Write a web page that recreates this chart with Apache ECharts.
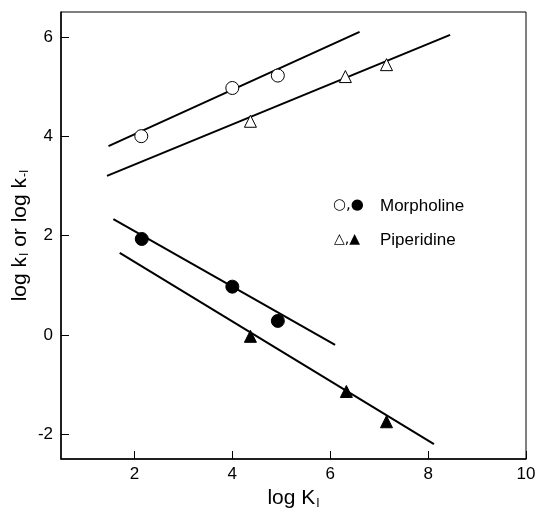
<!DOCTYPE html>
<html>
<head>
<meta charset="utf-8">
<script src="https://cdn.jsdelivr.net/npm/echarts@6/dist/echarts.min.js"></script>
<style>
  html, body { margin: 0; padding: 0; background: #fff; }
  #chart { width: 537px; height: 508px; }
</style>
</head>
<body>
<div id="chart"></div>
<script>
// Data (log K1 vs log k)
const morphK1 = [[2.14, 4.0], [4.0, 4.97], [4.93, 5.22]];
const piperK1 = [[4.37, 4.3], [6.31, 5.2], [7.15, 5.44]];
const morphKm1 = [[2.15, 1.93], [4.0, 0.97], [4.93, 0.28]];
const piperKm1 = [[4.37, -0.03], [6.33, -1.14], [7.15, -1.75]];

// fitted lines (end points)
const morphK1Fit = [[1.47, 3.8], [6.6, 6.1]];
const piperK1Fit = [[1.44, 3.2], [8.45, 6.04]];
const morphKm1Fit = [[1.57, 2.33], [6.1, -0.2]];
const piperKm1Fit = [[1.7, 1.65], [8.12, -2.2]];

const xTicks = [2, 4, 6, 8, 10];
const yTicks = [-2, 0, 2, 4, 6];

const chart = echarts.init(document.getElementById("chart"));

const font = "Liberation Sans, Arial, sans-serif";

const fitLine = (data) => ({
  type: "line",
  data: data,
  symbol: "none",
  lineStyle: { color: "#000", width: 2 },
  silent: true,
  z: 1,
});

const points = (data, symbol, filled) => ({
  type: "scatter",
  data: data,
  symbol: symbol,
  symbolSize: symbol === "triangle" ? 12 : 13,
  itemStyle: {
    color: filled ? "#000" : "#fff",
    borderColor: "#000",
    borderWidth: 1,
    opacity: 1,
  },
  z: 3,
});

chart.setOption({
  animation: false,
  grid: {
    left: 61,
    top: 12,
    right: 11,
    bottom: 49,
    outerBoundsMode: "none",
    containLabel: false,
    show: true,
    borderColor: "#000",
    borderWidth: 1,
  },
  xAxis: {
    type: "value",
    min: 0.5,
    max: 10,
    name: "log K{sub|I}",
    nameLocation: "middle",
    nameGap: 25,
    nameTextStyle: {
      color: "#000",
      fontSize: 21,
      fontFamily: font,
      rich: { sub: { fontSize: 12, fontFamily: font, padding: [10, 0, 0, 1] } },
    },
    axisLine: { onZero: false, lineStyle: { color: "#000", width: 1.5 } },
    axisTick: { inside: true, length: 8, customValues: xTicks, lineStyle: { color: "#000" } },
    axisLabel: { customValues: xTicks, color: "#000", fontSize: 17, fontFamily: font, margin: 7 },
    splitLine: { show: false },
  },
  yAxis: {
    type: "value",
    min: -2.5,
    max: 6.5,
    name: "log k{sub|I} or log k{sub|-I}",
    nameLocation: "middle",
    nameMoveOverlap: false,
    nameGap: 30,
    nameTextStyle: {
      color: "#000",
      fontSize: 21,
      fontFamily: font,
      rich: { sub: { fontSize: 12, fontFamily: font, padding: [10, 0, 0, 1] } },
    },
    axisLine: { onZero: false, lineStyle: { color: "#000", width: 1.5 } },
    axisTick: { inside: true, length: 8, customValues: yTicks, lineStyle: { color: "#000" } },
    axisLabel: { customValues: yTicks, color: "#000", fontSize: 17, fontFamily: font, margin: 8 },
    splitLine: { show: false },
  },
  graphic: [
    {
      type: "text",
      left: 333,
      top: 198,
      style: { text: "○,●", font: "15px DejaVu Sans", fill: "#000" },
    },
    {
      type: "text",
      left: 380,
      top: 198,
      style: { text: "Morpholine", font: "17px " + font, fill: "#000" },
    },
    {
      type: "text",
      left: 334,
      top: 232,
      style: { text: "△,▲", font: "14px DejaVu Sans", fill: "#000" },
    },
    {
      type: "text",
      left: 380,
      top: 232,
      style: { text: "Piperidine", font: "17px " + font, fill: "#000" },
    },
  ],
  series: [
    fitLine(morphK1Fit),
    fitLine(piperK1Fit),
    fitLine(morphKm1Fit),
    fitLine(piperKm1Fit),
    points(morphK1, "circle", false),
    points(piperK1, "triangle", false),
    points(morphKm1, "circle", true),
    points(piperKm1, "triangle", true),
  ],
});

window.addEventListener("resize", () => chart.resize());
</script>
</body>
</html>
